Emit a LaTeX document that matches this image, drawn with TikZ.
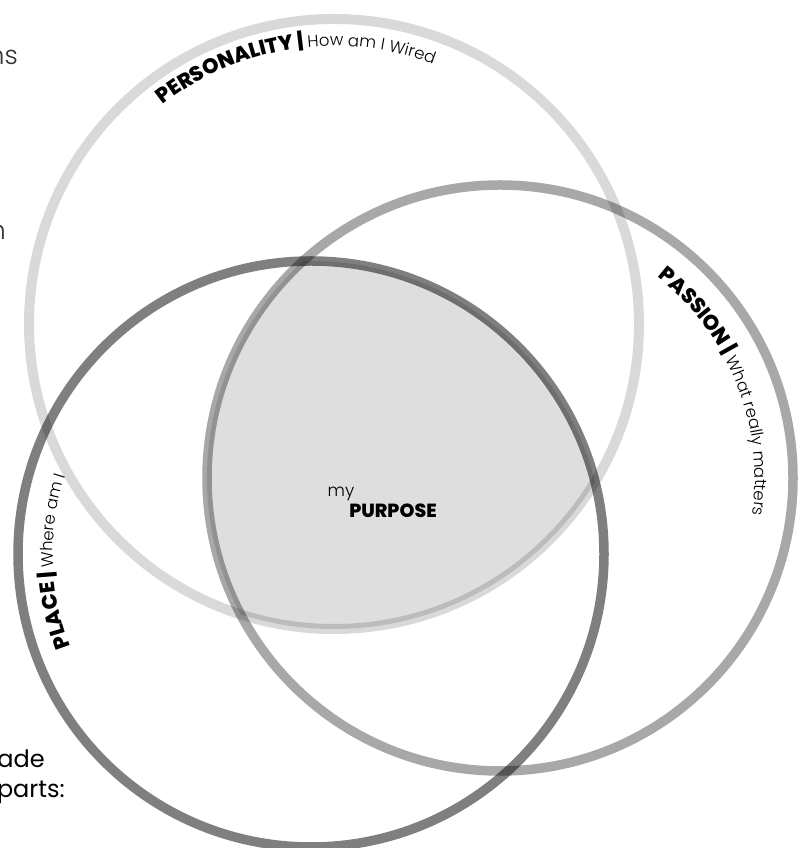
\documentclass[tikz,border=0pt]{standalone}
\usepackage{fontspec}
\newfontfamily\headfont{Poppins}
\newfontfamily\heavyfont{Poppins ExtraBold}
\newfontfamily\handfont{Poppins Light}
\usetikzlibrary{decorations.text}

\newcommand\capsfont{\heavyfont\fontsize{21}{24}\selectfont}
\newcommand\scrawlfont{\handfont\fontsize{16.5}{20}\selectfont}

\begin{document}
\begin{tikzpicture}[x=1pt,y=1pt,
  ring/.style={draw=black,line width=9.5},
  arctext/.style={decorate,decoration={text along path,
    text format delimiters={[}{]},text={#1}}}]
\useasboundingbox (0,0) rectangle (801,848);

\coordinate (pers) at (334,524);
\coordinate (pass) at (500,370);
\coordinate (place) at (311,294);

% shared middle
\begin{scope}
\clip (pers) circle[radius=305];
\clip (pass) circle[radius=293];
\fill[black!13] (place) circle[radius=293];
\end{scope}

\draw[ring,draw opacity=0.15,line width=10] (pers) circle[radius=305];
\draw[ring,draw opacity=0.34] (pass) circle[radius=293];
\draw[ring,draw opacity=0.5] (place) circle[radius=293];

\path[arctext={[\capsfont]PERSONALITY | [\scrawlfont]How am I Wired}]
  (pers) ++(128:278) arc[start angle=128,end angle=50,radius=278];
\path[arctext={[\capsfont]PASSION | [\scrawlfont]What really matters}]
  (pass) ++(52:255) arc[start angle=52,end angle=-20,radius=255];
\path[arctext={[\capsfont]PLACE | [\scrawlfont]Where am I}]
  (place) ++(201:258) arc[start angle=201,end angle=150,radius=258];

\node[font=\heavyfont\fontsize{19}{22}\selectfont] (purpose) at (393,337) {PURPOSE};
\node[font=\handfont\fontsize{17}{20}\selectfont] (my) at (341,354) {my};

% cut text at the left
\node[anchor=base east,text=black!80,font=\handfont\fontsize{26}{30}\selectfont,inner sep=0] (ns) at (18,783) {ns};
\node[anchor=base east,text=black!80,font=\handfont\fontsize{26}{30}\selectfont,inner sep=0] (n) at (6,608) {n};
\node[anchor=base east,font=\headfont\fontsize{24}{28}\selectfont,inner sep=0] (ade) at (45,80) {ade};
\node[anchor=base east,font=\headfont\fontsize{24}{28}\selectfont,inner sep=0] (parts) at (65,50) {parts:};
\end{tikzpicture}
\end{document}
